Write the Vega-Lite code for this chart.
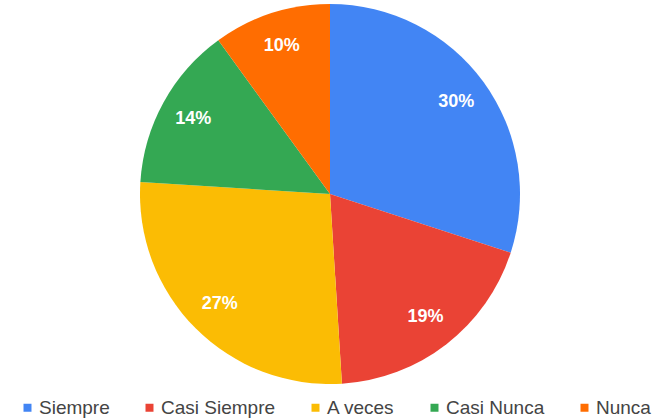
{
  "$schema": "https://vega.github.io/schema/vega-lite/v6.json",
  "width": 652,
  "height": 388,
  "autosize": "none",
  "padding": {"left": 4, "top": 0, "right": 0, "bottom": 32},
  "background": "white",
  "data": {"values": [
    {"cat": "Siempre", "val": 30, "ord": 1, "lab": "30%"},
    {"cat": "Casi Siempre", "val": 19, "ord": 2, "lab": "19%"},
    {"cat": "A veces", "val": 27, "ord": 3, "lab": "27%"},
    {"cat": "Casi Nunca", "val": 14, "ord": 4, "lab": "14%"},
    {"cat": "Nunca", "val": 10, "ord": 5, "lab": "10%"}
  ]},
  "encoding": {
    "theta": {"field": "val", "type": "quantitative", "stack": true},
    "order": {"field": "ord", "type": "quantitative"},
    "color": {
      "field": "cat", "type": "nominal",
      "scale": {"domain": ["Siempre", "Casi Siempre", "A veces", "Casi Nunca", "Nunca"],
                "range": ["#4285F4", "#EA4335", "#FBBC04", "#34A853", "#FF6D01"]},
      "legend": {"orient": "none", "legendX": 14, "legendY": 398, "direction": "horizontal", "title": null,
                 "symbolType": "square", "symbolSize": 90, "labelFontSize": 19,
                 "labelFont": "Liberation Sans", "labelColor": "#444444",
                 "columnPadding": 30, "labelOffset": 2, "padding": 0}
    }
  },
  "layer": [
    {"mark": {"type": "arc", "radius": 190, "stroke": "white", "strokeWidth": 0}},
    {"mark": {"type": "text", "radius": 156, "fontSize": 18, "fontWeight": "bold", "font": "Liberation Sans", "fill": "white"},
     "encoding": {"text": {"field": "lab"}, "color": {"value": "white"}}}
  ],
  "config": {"view": {"stroke": null}}
}
